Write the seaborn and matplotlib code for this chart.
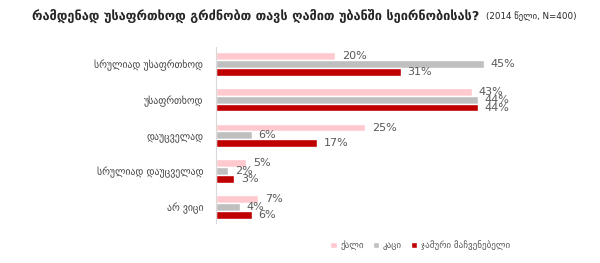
import matplotlib
matplotlib.use("Agg")
import matplotlib.pyplot as plt
import seaborn as sns
import pandas as pd

categories = ["სრულიად უსაფრთხოდ", "უსაფრთხოდ", "დაუცველად", "სრულიად დაუცველად", "არ ვიცი"]
series_names = ["ქალი", "კაცი", "ჯამური მაჩვენებელი"]
women = [20, 43, 25, 5, 7]
men = [45, 44, 6, 2, 4]
total = [31, 44, 17, 3, 6]

title_main = "რამდენად უსაფრთხოდ გრძნობთ თავს ღამით უბანში სეირნობისას?"
title_sub = "(2014 წელი, N=400)"

rows = []
for name, vals in zip(series_names, [women, men, total]):
    for c, v in zip(categories, vals):
        rows.append({"category": c, "series": name, "value": v})
df = pd.DataFrame(rows)

sns.set_theme(style="white")
plt.rcParams["font.family"] = ["DejaVu Sans"]

fig = plt.figure(figsize=(6, 2.63), dpi=100)
ax = fig.add_axes([0.36, 0.152, 0.496, 0.669])

palette = {"ქალი": "#FFC9CE", "კაცი": "#BFBFBF", "ჯამური მაჩვენებელი": "#C00000"}
sns.barplot(data=df, y="category", x="value", hue="series", order=categories,
            hue_order=series_names, palette=palette, orient="h", width=0.66,
            saturation=1, ax=ax, legend=True)

for cont in ax.containers:
    ax.bar_label(cont, labels=[f"{int(round(b.get_width()))}%" for b in cont],
                 padding=5, fontsize=8, color="#595959")

ax.set_xlim(0, 50)
ax.set_ylim(4.45, -0.47)
ax.set_xlabel("")
ax.set_ylabel("")
ax.set_xticks([])
ax.tick_params(axis="y", length=0, pad=9, labelsize=7, labelcolor="#404040")
for s in ["top", "right", "bottom"]:
    ax.spines[s].set_visible(False)
ax.spines["left"].set_color("#D9D9D9")
ax.spines["left"].set_linewidth(0.8)

handles, labels = ax.get_legend_handles_labels()
ax.legend_.remove()
fig.legend(handles, labels, loc="center", bbox_to_anchor=(0.70, 0.068), ncol=3,
           frameon=False, fontsize=6.5, handlelength=0.7, handleheight=0.7,
           handletextpad=0.4, columnspacing=1.0, labelcolor="#595959")

fig.text(0.053, 0.94, title_main, fontsize=9.2, fontweight="bold", color="#262626",
         ha="left", va="center")
fig.text(0.81, 0.94, title_sub, fontsize=6.3, color="#262626", ha="left", va="center")

fig.savefig("out.png", dpi=100)
